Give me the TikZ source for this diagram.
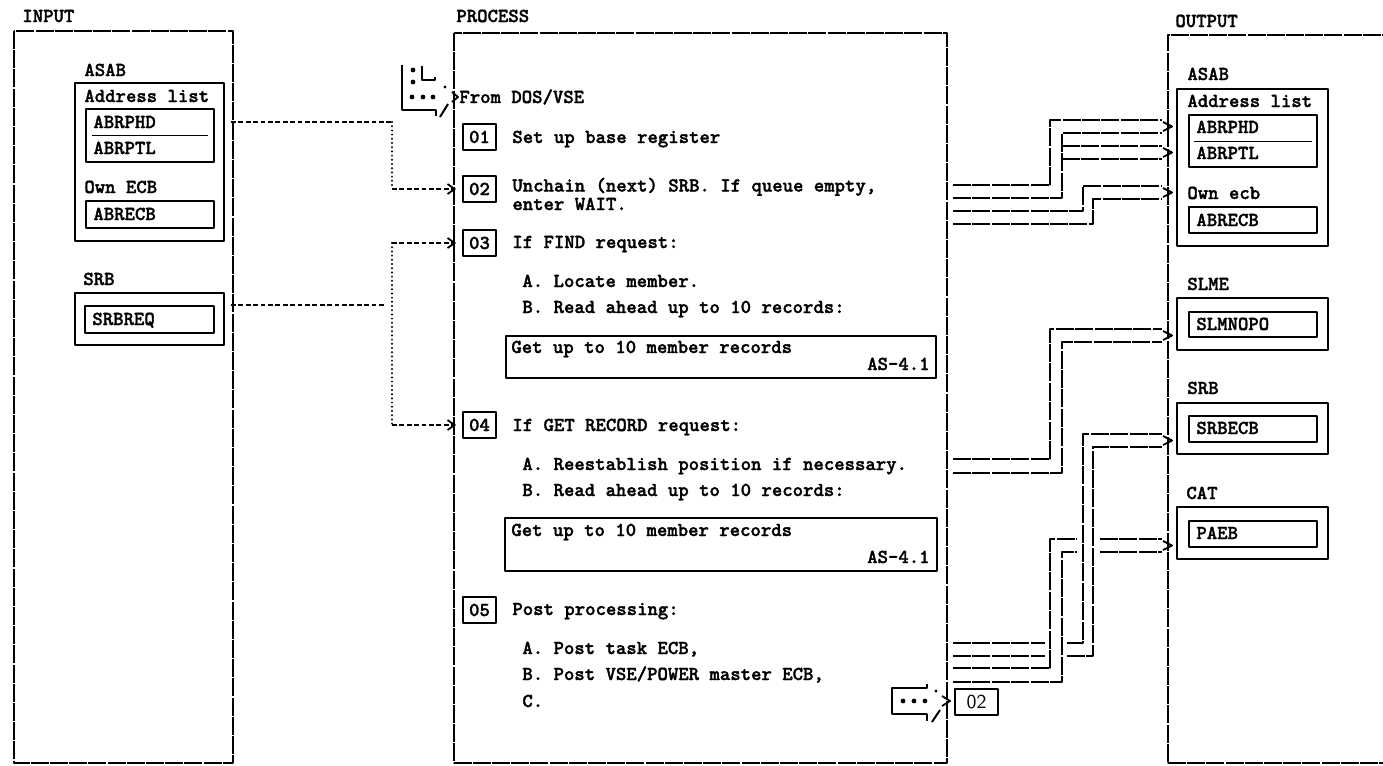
\documentclass[tikz,border=0pt]{standalone}
\usepackage{fontspec}
\newfontfamily\twfont{lmmonolt10-bold.otf}[FakeBold=1.6]
\usetikzlibrary{arrows.meta}
\tikzset{
  tw/.style={font=\twfont\fontsize{9.9}{11}\selectfont, inner sep=0pt, text height=6pt, text depth=0pt, anchor=west},
  twr/.style={tw, anchor=east},
  stepbox/.style={tw, anchor=center, draw, line width=0.9pt, minimum width=16.5pt, minimum height=13pt},
  frame/.style={line width=0.9pt, dash pattern=on 9pt off 0.6pt},
  box/.style={line width=1pt},
  flow/.style={line width=0.9pt, dash pattern=on 9pt off 0.7pt},
  link/.style={line width=0.8pt, dash pattern=on 2.4pt off 1.3pt},
  dots/.style={line width=1.1pt, line cap=round, dash pattern=on 0pt off 2.1pt},
  chev/.style={line width=0.9pt},
  tip/.style={-{Straight Barb[length=3.5pt,width=5pt,line width=0.9pt]}}
}
\begin{document}
\begin{tikzpicture}[x=0.5pt, y=-0.5pt, line join=round]
  \useasboundingbox (0,0) rectangle (1383,766);

  % column frames
  \node[tw] (inlbl) at (22,16) {INPUT};
  \node[tw] (proclbl) at (456,16) {PROCESS};
  \node[tw] (outlbl) at (1175,21) {OUTPUT};
  \draw[frame] (14,31) rectangle (233,763);
  \draw[frame] (454,33) rectangle (947,763);
  \draw[frame] (1400,35) -- (1168,35) -- (1168,763) -- (1400,763);

  % input data
  \node[tw] (iasab) at (84,70) {ASAB};
  \draw[box] (75,83) rectangle (224,241);
  \node[tw] (iaddr) at (84,96) {Address list};
  \draw[box] (86,109) rectangle (214,162);
  \node[tw] (iphd) at (93,122) {ABRPHD};
  \draw (92,135) -- (208,135);
  \node[tw] (iptl) at (93,148) {ABRPTL};
  \node[tw] (iown) at (84,187) {Own ECB};
  \draw[box] (86,201) rectangle (214,228);
  \node[tw] (iecb) at (93,214) {ABRECB};
  \node[tw] (isrb) at (83,279) {SRB};
  \draw[box] (75,293) rectangle (224,345);
  \draw[box] (85,306) rectangle (214,333);
  \node[tw] (ireq) at (92,319) {SRBREQ};

  % entry from DOS/VSE
  \draw[box] (402,65) -- (402,110) -- (436,110) -- (436,116);
  \draw[box] (440,117) -- (448,104);
  \draw[box] (422,66) -- (422,80) -- (435,80) -- (435,77);
  \foreach \p in {(413,70),(413,82),(412,97),(423,97),(433,97)}
    \fill \p circle[radius=1.2pt];
  \fill (445,87) circle[radius=0.8pt];
  \draw[chev] (452,92) -- (458,97) -- (452,102);
  \node[tw] (from) at (459,97) {From DOS/VSE};

  % process steps
  \node[stepbox] (s01) at (479.5,137) {01};
  \node[tw] (t01) at (512,137) {Set up base register};
  \node[stepbox] (s02) at (479.5,189) {02};
  \node[tw] (t02) at (512,185.5) {Unchain (next) SRB. If queue empty,};
  \node[tw] (t02b) at (512,204) {enter WAIT.};
  \node[stepbox] (s03) at (479.5,243) {03};
  \node[tw] (t03) at (512,242) {If FIND request:};
  \node[tw] (t03a) at (522,281) {A. Locate member.};
  \node[tw] (t03b) at (522,307) {B. Read ahead up to 10 records:};
  \draw[box] (506,336) rectangle (936,378);
  \node[tw] (get1) at (511,347) {Get up to 10 member records};
  \node[twr] (as1) at (930,364) {AS-4.1};
  \node[stepbox] (s04) at (479.5,425) {04};
  \node[tw] (t04) at (512,425) {If GET RECORD request:};
  \node[tw] (t04a) at (522,464) {A. Reestablish position if necessary.};
  \node[tw] (t04b) at (522,490) {B. Read ahead up to 10 records:};
  \draw[box] (505,518) rectangle (937,571);
  \node[tw] (get2) at (511,530) {Get up to 10 member records};
  \node[twr] (as2) at (930,557) {AS-4.1};
  \node[stepbox] (s05) at (479.5,610) {05};
  \node[tw] (t05) at (512,609) {Post processing:};
  \node[tw] (t05a) at (522,648) {A. Post task ECB,};
  \node[tw] (t05b) at (522,674) {B. Post VSE/POWER master ECB,};
  \node[tw] (t05c) at (522,701) {C.};

  % exit back to step 02
  \draw[box] (927,684) -- (927,688) -- (892,688) -- (892,714) -- (927,714) -- (927,721);
  \draw[box] (932,722) -- (940,710);
  \foreach \p in {(903,701),(914,701),(925,701)}
    \fill \p circle[radius=1.2pt];
  \fill (936,691) circle[radius=0.8pt];
  \draw[chev] (942,696) -- (950,701) -- (942,706);
  \node[draw, box, font=\sffamily\fontsize{9.9}{11}\selectfont, inner sep=0pt,
        minimum width=21.5pt, minimum height=13pt] (ret) at (976.5,702) {02};

  % input links
  \coordinate (bus) at (392,0);
  \coordinate (phdout) at (231,122);
  \coordinate (reqout) at (231,305);
  \draw[link] (phdout) -- (bus |- phdout);
  \draw[dots] (bus |- phdout) -- (bus |- s02.west);
  \draw[link,tip] (bus |- s02.west) -- ([xshift=-3pt]s02.west);
  \draw[dots] (bus |- s03.west) -- (bus |- s04.west);
  \draw[link,tip] (bus |- s03.west) -- ([xshift=-3pt]s03.west);
  \draw[link,tip] (bus |- s04.west) -- ([xshift=-3pt]s04.west);
  \draw[link] (reqout) -- ([xshift=-3pt]bus |- reqout);

  % output data
  \node[tw] (oasab) at (1187,74) {ASAB};
  \draw[box] (1177,89) rectangle (1328,246);
  \node[tw] (oaddr) at (1187,101) {Address list};
  \draw[box] (1189,115) rectangle (1317,167);
  \node[tw] (ophd) at (1196,127) {ABRPHD};
  \draw (1194,141) -- (1312,141);
  \node[tw] (optl) at (1196,153) {ABRPTL};
  \node[tw] (oown) at (1187,193) {Own ecb};
  \draw[box] (1189,207) rectangle (1317,233);
  \node[tw] (oecb) at (1196,220) {ABRECB};
  \node[tw] (oslme) at (1187,284) {SLME};
  \draw[box] (1177,298) rectangle (1328,350);
  \draw[box] (1189,312) rectangle (1317,337);
  \node[tw] (oopo) at (1196,324) {SLMNOPO};
  \node[tw] (osrb) at (1187,388) {SRB};
  \draw[box] (1177,403) rectangle (1328,454);
  \draw[box] (1189,416) rectangle (1317,442);
  \node[tw] (osecb) at (1196,428) {SRBECB};
  \node[tw] (ocat) at (1186,493) {CAT};
  \draw[box] (1177,507) rectangle (1328,559);
  \draw[box] (1189,521) rectangle (1317,547);
  \node[tw] (opaeb) at (1196,533) {PAEB};

  % step 02 -> ASAB
  \draw[flow] (953,185) -- (1050,185) -- (1050,120) -- (1162,120);
  \draw[flow] (953,198) -- (1062,198) -- (1062,133) -- (1162,133);
  \draw[flow] (1062,146) -- (1162,146);
  \draw[flow] (1062,159) -- (1162,159);
  \draw[flow] (953,211) -- (1083,211) -- (1083,186) -- (1162,186);
  \draw[flow] (953,224) -- (1093,224) -- (1093,199) -- (1162,199);

  % step 04 -> SLME
  \draw[flow] (953,459) -- (1050,459) -- (1050,329) -- (1162,329);
  \draw[flow] (953,473) -- (1062,473) -- (1062,342) -- (1162,342);

  % step 05 -> SRB, CAT
  \draw[flow] (953,643) -- (1045,643);
  \draw[flow] (1067,643) -- (1083,643) -- (1083,434) -- (1162,434);
  \draw[flow] (953,656) -- (1045,656);
  \draw[flow] (1067,656) -- (1093,656) -- (1093,447) -- (1162,447);
  \draw[flow] (953,668) -- (1050,668) -- (1050,539) -- (1077,539);
  \draw[flow] (1100,539) -- (1162,539);
  \draw[flow] (953,682) -- (1062,682) -- (1062,552) -- (1077,552);
  \draw[flow] (1100,552) -- (1162,552);

  \foreach \y in {126.5,152.5,192.5,335.5,440.5,545.5}
    \draw[chev] (1163,\y-4.5) -- (1172,\y) -- (1163,\y+4.5);
\end{tikzpicture}
\end{document}
